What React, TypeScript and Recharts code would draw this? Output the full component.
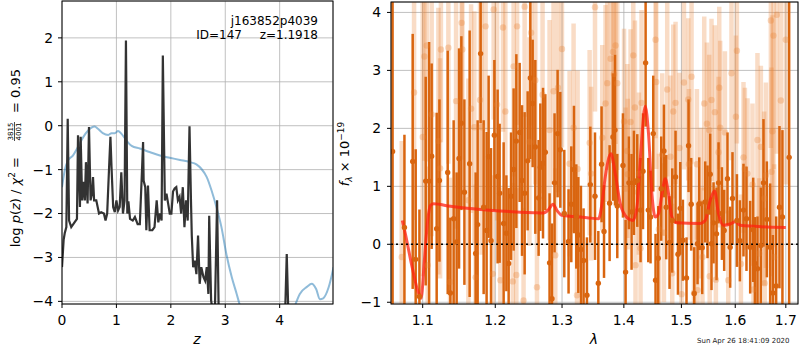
import React from 'react'
import {
  ComposedChart,
  LineChart,
  Line,
  Scatter,
  ErrorBar,
  XAxis,
  YAxis,
  CartesianGrid,
  ReferenceLine,
} from 'recharts'

// left panel: log p(z)
const pzZ = [
  0, 0.03, 0.05, 0.08, 0.105, 0.13, 0.17, 0.23, 0.275, 0.294, 0.33, 0.343, 0.37, 0.4, 0.42, 0.44, 0.47, 0.496,
  0.525, 0.55, 0.57, 0.59, 0.63, 0.68, 0.72, 0.77, 0.8, 0.83, 0.863, 0.89, 0.91, 0.94, 0.97, 1.0, 1.03, 1.06,
  1.09, 1.12, 1.15, 1.175, 1.2, 1.22, 1.25, 1.3, 1.34, 1.39, 1.43, 1.47, 1.49, 1.5, 1.53, 1.55, 1.58, 1.61,
  1.66, 1.7, 1.74, 1.77, 1.8, 1.83, 1.853, 1.89, 1.92, 1.95, 1.98, 2.01, 2.04, 2.07, 2.1, 2.13, 2.16, 2.19,
  2.22, 2.25, 2.28, 2.31, 2.343, 2.37, 2.385, 2.41, 2.44, 2.47, 2.5, 2.53, 2.56, 2.6, 2.63, 2.66, 2.69, 2.705,
  2.74, 2.78, 2.81, 2.85, 2.88, 2.92, 4.08, 4.1, 4.13, 4.16, 4.2, 4.98,
]
const logPz = [
  -3.22, -2.6, -2.45, -2.31, 0.16, -2.16, -2.31, -2.2, -2.12, -0.22, -1.85, -0.25, -1.7, -1.28, -1.7, -0.83, -1.77, -0.03,
  -1.7, -1.55, -1.17, -1.7, -1.7, -2.0, -1.97, -2.0, -2.16, -2.0, -1.02, -0.25, -0.94, -1.85, -1.97, -1.7, -1.93, -1.85,
  -1.06, -2.0, -1.7, 1.94, -2.0, -1.72, -2.12, -2.16, -2.08, -2.24, -2.24, -1.02, -0.37, -1.25, -1.4, -2.38, -1.36, -2.38,
  -2.38, -2.31, -1.7, -2.2, -2.0, -2.16, 1.6, -1.7, -1.55, -1.77, -2.0, -2.0, -1.5, -1.43, -1.4, -1.7, -1.62, -2.0,
  -1.4, -2.31, -1.7, -2.16, -0.01, -1.7, -2.5, -3.22, -3.07, -3.38, -2.5, -3.6, -3.22, -3.45, -3.53, -3.22, -3.83, -2.05,
  -3.98, -4.3, -4.2, -1.7, -4.3, -6, -6, -4.3, -2.92, -4.3, -6, -6,
]

const priorZ = [
  0, 0.05, 0.11, 0.2, 0.29, 0.39, 0.48, 0.6, 0.66, 0.75, 0.85, 0.91, 0.97, 1.03, 1.09, 1.18, 1.28, 1.43, 1.61,
  1.8, 1.98, 2.17, 2.35, 2.47, 2.56, 2.66, 2.75, 2.84, 2.93, 3.02, 3.12, 3.21, 3.27, 3.36, 3.6, 3.9, 4.15, 4.28,
  4.37, 4.5, 4.59, 4.67, 4.74, 4.8, 4.9, 4.99,
]
const logPrior = [
  -1.4, -1.02, -0.79, -0.68, -0.49, -0.26, -0.11, -0.02, -0.07, -0.17, -0.21, -0.17, -0.17, -0.12, -0.18, -0.33,
  -0.46, -0.52, -0.6, -0.68, -0.73, -0.78, -0.83, -0.88, -0.98, -1.17, -1.48, -1.86, -2.31, -2.92, -3.45, -3.83,
  -4.1, -4.5, -5.2, -5.4, -4.6, -4.1, -3.83, -3.67, -3.6, -3.72, -3.95, -3.93, -3.68, -3.22,
]

// right panel: spectrum
const darkWave = [
  1.061, 1.0762, 1.0869, 1.0908, 1.0957, 1.104, 1.1085, 1.1119, 1.1186, 1.1223, 1.1335, 1.1371, 1.1416, 1.1457,
  1.149, 1.1522, 1.1564, 1.1637, 1.1721, 1.1749, 1.1791, 1.1834, 1.1876, 1.1905, 1.1939, 1.1987, 1.2034, 1.2063,
  1.2121, 1.2161, 1.2194, 1.2229, 1.2267, 1.2307, 1.2356, 1.2391, 1.243, 1.2475, 1.2515, 1.255, 1.259, 1.264,
  1.2666, 1.2707, 1.2742, 1.2807, 1.2844, 1.2884, 1.2931, 1.2973, 1.3035, 1.3102, 1.3145, 1.3187, 1.3224, 1.3256,
  1.3298, 1.334, 1.3394, 1.3448, 1.3524, 1.3578, 1.3631, 1.3671, 1.3763, 1.3818, 1.3852, 1.389, 1.3985, 1.4029,
  1.4085, 1.413, 1.417, 1.4227, 1.4283, 1.4325, 1.437, 1.4416, 1.4455, 1.4502, 1.4542, 1.4589, 1.4641, 1.4689,
  1.4729, 1.4788, 1.4836, 1.4895, 1.4938, 1.4979, 1.5027, 1.5092, 1.5129, 1.5177, 1.5232, 1.5293, 1.5324, 1.5379,
  1.5434, 1.5477, 1.5527, 1.5551, 1.5589, 1.5645, 1.5683, 1.5746, 1.5789, 1.5852, 1.5903, 1.5947, 1.6032, 1.6089,
  1.6159, 1.6217, 1.6289, 1.6348, 1.6381, 1.6432, 1.6499, 1.6551, 1.6618, 1.6684, 1.6738, 1.6804, 1.6871, 1.6931,
  1.7068,
]
const darkFlux = [
  1.6, 0.29, 1.43, -0.26, -0.9, 1.09, 1.09, 1.52, 0.27, 1.1, 1.24, -0.84, 0.44, 0.04,
  1.48, 2.09, 0.9, 1.39, -0.16, 0.34, 3.29, 0.64, 0.24, 1.51, 0.06, 1.88, 1.17, 0.88,
  0.36, 0.19, -0.33, 0.83, 1.29, 1.78, 1.93, 1.1, 0.88, 1.44, 2.87, 2.43, 1.68, 0.8,
  1.33, 1.4, 1.59, -0.32, -0.94, 1.06, 1.91, 1.63, 0.53, 0.05, 0.69, 1.29, 0.48, 0.16,
  -0.09, -0.28, -0.88, 1.03, 0.83, -0.67, 1.38, 0.22, 0.71, 1.85, 1.97, 0.66, 1.36, -0.48,
  1.06, 0.56, 1.06, 1.1, 0.59, 1.26, 3.13, 0.59, 0.47, 1.91, -0.62, -0.24, 0.96, 1.61,
  0.64, 0.03, 0.41, 1.16, -0.17, 0.62, 0.07, -0.58, 1.7, 0.69, -0.85, 0.01, 0.7, -0.06,
  0.73, 0.56, 1.21, 0.01, 0.37, 0.18, 1.06, 0.53, 0.24, 1.13, -0.05, 0.79, 0.41, 0.06,
  0.59, 0.44, -0.05, 0.25, -0.33, -0.42, -0.02, 1.06, 0.43, -0.05, -0.84, -0.72, 0.64, 0.47,
  1.5,
]
const darkErr = [
  3.0, 1.6, 2.2, 1.9, 1.5, 1.8, 2.4, 1.6, 2.0, 1.4, 2.1, 1.3, 1.7, 1.2,
  1.9, 1.5, 1.6, 2.3, 1.4, 1.8, 1.2, 1.5, 1.7, 1.4, 1.6, 1.3, 1.5, 1.2,
  1.4, 1.0, 1.3, 1.1, 1.4, 1.5, 1.2, 1.3, 1.4, 1.2, 1.4, 1.1, 1.5, 1.0,
  1.1, 1.3, 1.0, 1.2, 1.3, 1.2, 1.1, 1.0, 1.1, 0.9, 1.0, 1.1, 0.9, 1.0,
  1.1, 0.9, 1.0, 1.0, 1.1, 0.9, 1.0, 0.8, 1.0, 1.1, 1.3, 0.9, 0.9, 0.9,
  0.8, 1.0, 0.9, 0.8, 0.9, 1.0, 1.1, 0.9, 0.8, 1.0, 0.8, 0.9, 0.9, 0.8,
  0.9, 0.8, 0.9, 0.8, 0.7, 0.8, 0.7, 0.7, 0.8, 0.8, 0.8, 0.7, 0.8, 0.8,
  0.7, 0.8, 0.7, 0.8, 0.7, 0.8, 0.7, 0.8, 0.7, 0.8, 0.7, 0.8, 0.8, 0.7,
  0.8, 0.9, 0.8, 0.9, 0.8, 0.9, 1.0, 1.1, 1.0, 1.1, 1.0, 1.2, 1.4, 1.5,
  3.5,
]

const lightWave = [
  1.0727, 1.0887, 1.1, 1.1022, 1.1053, 1.1066, 1.1119, 1.1209, 1.1232, 1.1243, 1.1344, 1.1367, 1.1449, 1.1526,
  1.1536, 1.1619, 1.1657, 1.1703, 1.1721, 1.1783, 1.1806, 1.1862, 1.1965, 1.1977, 1.2026, 1.2073, 1.2112, 1.2146,
  1.2255, 1.2267, 1.2307, 1.2318, 1.2414, 1.243, 1.2502, 1.2527, 1.259, 1.2615, 1.27, 1.2807, 1.2868, 1.2895,
  1.2937, 1.2999, 1.3118, 1.3181, 1.3235, 1.3245, 1.3437, 1.3461, 1.3524, 1.3642, 1.3696, 1.3724, 1.3779, 1.3818,
  1.3835, 1.3862, 1.389, 1.4003, 1.4029, 1.4058, 1.4066, 1.4113, 1.4159, 1.4187, 1.4197, 1.4255, 1.4283, 1.43,
  1.4542, 1.4554, 1.46, 1.4659, 1.4689, 1.4747, 1.4805, 1.4836, 1.4854, 1.4895, 1.4966, 1.5003, 1.5046, 1.5123,
  1.5136, 1.5183, 1.5227, 1.5281, 1.5293, 1.5355, 1.5384, 1.5416, 1.5466, 1.5508, 1.5517, 1.5551, 1.5614, 1.5633,
  1.5683, 1.5696, 1.5714, 1.5803, 1.5866, 1.5928, 1.6013, 1.6032, 1.6109, 1.6159, 1.6186, 1.6236, 1.6334, 1.6354,
  1.6432, 1.6466, 1.6499, 1.6565, 1.6575, 1.6599, 1.6698, 1.671, 1.673, 1.6751, 1.6765, 1.6818, 1.6899, 1.7,
]
const lightFlux = [
  -0.22, 2.62, 1.85, 3.24, 3.43, -0.36, 2.24, 1.78, 1.31, 3.36, 3.39, -0.65, 2.47, 3.82,
  3.36, 0.76, 2.34, 2.02, -0.57, 2.49, 2.02, 3.76, -0.51, 4.05, 2.41, -0.62, 3.74, 2.29,
  -0.64, 3.07, -0.53, 3.76, -0.97, 4.1, 1.77, 3.65, 2.83, -0.74, 2.58, 1.97, 2.64, -0.19,
  2.7, 3.37, 1.39, 2.01, -0.88, 1.3, 1.75, 1.22, 4.09, 1.84, 2.43, 2.78, 3.2, 3.32,
  2.94, 3.43, 2.78, 2.12, 0.96, 1.61, 1.21, 2.11, 3.26, 2.36, -0.36, 1.22, -0.07, 2.44,
  3.53, 2.8, 0.26, 1.55, 0.2, 2.67, 1.51, -0.5, 2.29, 2.44, 1.66, -0.86, 2.79, 2.5,
  1.38, 2.89, -0.84, 1.38, -0.79, 0.71, -0.22, 2.43, 2.08, 1.97, -0.55, 2.49, 2.28, -0.61,
  1.59, 2.7, 2.01, 1.93, -0.62, 2.95, 2.2, 3.34, -0.34, 1.5, 1.3, 1.22, 1.03, -0.78,
  1.8, -0.16, 1.68, 0.79, -0.67, 1.19, 3.86, 1.25, 1.95, 3.6, -0.22, 3.96, 2.48, 3.53,
]
const lightErr = [
  2.0, 2.2, 2.4, 1.8, 2.0, 1.7, 2.1, 2.3, 1.9, 1.6, 2.0, 1.8, 2.2, 1.7,
  1.9, 2.1, 1.8, 2.0, 1.6, 1.9, 2.2, 1.8, 1.7, 1.9, 2.0, 1.6, 1.8, 2.1,
  1.7, 1.9, 1.5, 1.7, 1.6, 1.9, 1.8, 1.6, 1.8, 1.5, 1.7, 1.9, 1.6, 1.5,
  1.8, 1.7, 1.6, 1.8, 1.4, 1.7, 1.6, 1.5, 1.8, 1.6, 1.7, 1.5, 1.8, 1.6,
  1.5, 1.7, 1.5, 1.6, 1.4, 1.5, 1.3, 1.6, 1.7, 1.5, 1.3, 1.4, 1.3, 1.6,
  1.7, 1.5, 1.3, 1.4, 1.2, 1.5, 1.4, 1.2, 1.5, 1.4, 1.3, 1.2, 1.5, 1.4,
  1.3, 1.5, 1.2, 1.3, 1.2, 1.3, 1.2, 1.5, 1.4, 1.3, 1.2, 1.4, 1.5, 1.2,
  1.3, 1.4, 1.5, 1.4, 1.2, 1.5, 1.4, 1.6, 1.2, 1.3, 1.4, 1.3, 1.4, 1.2,
  1.5, 1.3, 1.4, 1.5, 1.3, 1.6, 2.2, 1.8, 2.0, 2.3, 1.6, 2.4, 2.2, 2.5,
]

const modelWave = [
  1.0735, 1.0774, 1.0861, 1.0947, 1.0979, 1.1022, 1.1066, 1.1102, 1.1146, 1.1371, 1.1601, 1.2073, 1.2564, 1.2716,
  1.2792, 1.2859, 1.2921, 1.2999, 1.3181, 1.3394, 1.3582, 1.3637, 1.3691, 1.3785, 1.3856, 1.394, 1.4052, 1.4153,
  1.4221, 1.4289, 1.4363, 1.442, 1.4479, 1.4536, 1.4594, 1.4654, 1.4712, 1.477, 1.483, 1.4919, 1.5342, 1.5434,
  1.5527, 1.5607, 1.5682, 1.5776, 1.5904, 1.5999, 1.6095, 1.6354, 1.6999,
]
const modelFlux = [
  0.41, 0.18, -0.39, -0.85, -0.93, -0.28, 0.41, 0.67, 0.7, 0.655, 0.62, 0.575, 0.546, 0.54,
  0.6, 0.69, 0.586, 0.5, 0.48, 0.46, 0.44, 0.7, 1.16, 1.56, 1.22, 0.7, 0.46, 0.41,
  0.64, 1.62, 2.38, 1.91, 0.87, 0.47, 0.53, 0.87, 1.13, 0.87, 0.47, 0.37, 0.36, 0.41,
  0.76, 0.92, 0.53, 0.33, 0.35, 0.39, 0.33, 0.31, 0.29,
]

const zTicks = [0, 1, 2, 3, 4]
const pzTicks = [-4, -3, -2, -1, 0, 1, 2]
const waveTicks = [1.1, 1.2, 1.3, 1.4, 1.5, 1.6, 1.7]
const fluxTicks = [-1, 0, 1, 2, 3, 4]

const Z_DOMAIN: [number, number] = [0, 4.98]
const PZ_DOMAIN: [number, number] = [-4.06, 2.84]
const WAVE_DOMAIN: [number, number] = [1.059, 1.725]
const FLUX_DOMAIN: [number, number] = [-1.03, 4.18]

// error bars are not clipped by recharts, so trim them to the visible flux range
const pts = (xs: number[], ys: number[], es?: number[]) =>
  xs.map((x, i) => {
    const y = ys[i]
    const e = es ? es[i] : 0
    const lo = Math.max(0, Math.min(e, y - FLUX_DOMAIN[0]))
    const hi = Math.max(0, Math.min(e, FLUX_DOMAIN[1] - y))
    return { x, y, eb: [lo, hi] }
  })

const pzData = pts(pzZ, logPz)
const priorData = pts(priorZ, logPrior)
const darkData = pts(darkWave, darkFlux, darkErr)
const lightData = pts(lightWave, lightFlux, lightErr)
const modelData = pts(modelWave, modelFlux)

const FONT = 'DejaVu Sans'
const ORANGE = '#d9650f'
const minus = (v: number) => (v < 0 ? '\u2212' + Math.abs(v) : String(v))
const tickStyle = { fontSize: 13.9, fill: '#000', fontFamily: FONT }

export default function App() {
  return (
    <div
      style={{
        position: 'absolute',
        left: 0,
        top: 0,
        width: 800,
        height: 350,
        background: '#fff',
        overflow: 'hidden',
        fontFamily: FONT,
      }}
    >
      <div style={{ position: 'absolute', left: 0, top: 0 }}>
        <LineChart width={400} height={350} margin={{ top: 1, right: 67, bottom: 0, left: 0 }}>
          <CartesianGrid stroke="#b0b0b0" strokeWidth={0.8} />
          <XAxis
            dataKey="x"
            type="number"
            domain={Z_DOMAIN}
            ticks={zTicks}
            allowDataOverflow
            height={46}
            axisLine={false}
            tickLine={{ stroke: '#000' }}
            tickSize={4}
            tickMargin={7}
            tick={tickStyle}
          />
          <YAxis
            dataKey="y"
            type="number"
            domain={PZ_DOMAIN}
            ticks={pzTicks}
            allowDataOverflow
            width={62}
            axisLine={false}
            tickLine={{ stroke: '#000' }}
            tickSize={4}
            tickMargin={5}
            tick={tickStyle}
            tickFormatter={minus}
          />
          <Line
            data={priorData}
            dataKey="y"
            type="monotone"
            stroke="#1f77b4"
            strokeOpacity={0.5}
            strokeWidth={2}
            dot={false}
            activeDot={false}
            isAnimationActive={false}
          />
          <Line
            data={pzData}
            dataKey="y"
            type="linear"
            stroke="#333333"
            strokeWidth={2.2}
            dot={false}
            activeDot={false}
            isAnimationActive={false}
          />
        </LineChart>
      </div>

      <div style={{ position: 'absolute', left: 330, top: 0 }}>
        <ComposedChart width={470} height={350} margin={{ top: 2, right: 2, bottom: 0, left: 0 }}>
          <CartesianGrid stroke="#b0b0b0" strokeWidth={0.8} />
          <XAxis
            dataKey="x"
            type="number"
            scale="log"
            domain={WAVE_DOMAIN}
            ticks={waveTicks}
            allowDataOverflow
            height={46}
            axisLine={false}
            tickLine={{ stroke: '#000' }}
            tickSize={4}
            tickMargin={7}
            tick={tickStyle}
            tickFormatter={(v: number) => v.toFixed(1)}
          />
          <YAxis
            dataKey="y"
            type="number"
            domain={FLUX_DOMAIN}
            ticks={fluxTicks}
            allowDataOverflow
            width={61}
            axisLine={false}
            tickLine={{ stroke: '#000' }}
            tickSize={4}
            tickMargin={6}
            tick={tickStyle}
            tickFormatter={minus}
          />
          <Scatter
            data={lightData}
            isAnimationActive={false}
            shape={(p: any) => <circle cx={p.cx} cy={p.cy} r={3.2} fill="rgba(232,130,50,0.3)" />}
          >
            <ErrorBar
              dataKey="eb"
              direction="y"
              width={0}
              stroke="rgba(232,130,50,0.28)"
              strokeWidth={4.5}
              isAnimationActive={false}
            />
          </Scatter>
          <Scatter
            data={darkData}
            isAnimationActive={false}
            shape={(p: any) => <circle cx={p.cx} cy={p.cy} r={2.7} fill={ORANGE} />}
          >
            <ErrorBar dataKey="eb" direction="y" width={0} stroke={ORANGE} strokeWidth={2.5} isAnimationActive={false} />
          </Scatter>
          <Line
            data={modelData}
            dataKey="y"
            type="monotone"
            stroke="#ff2010"
            strokeOpacity={0.75}
            strokeWidth={3}
            dot={false}
            activeDot={false}
            isAnimationActive={false}
          />
          <ReferenceLine y={0} stroke="#000" strokeWidth={1.5} strokeDasharray="2 3" />
        </ComposedChart>
      </div>

      <svg
        width={800}
        height={350}
        style={{ position: 'absolute', left: 0, top: 0, pointerEvents: 'none' }}
        fontFamily={FONT}
      >
        <rect x={62} y={1} width={271} height={303} fill="none" stroke="#000" strokeWidth={1} />
        <rect x={391} y={2} width={407} height={302} fill="none" stroke="#000" strokeWidth={1} />

        <text x={318} y={25} textAnchor="end" fontSize={12}>j163852p4039</text>
        <text x={242} y={39} textAnchor="end" fontSize={12}>ID=147</text>
        <text x={318} y={39} textAnchor="end" fontSize={12}>z=1.1918</text>

        <g transform="translate(20,158) rotate(-90)">
          <text x={1} y={0} textAnchor="end" fontSize={13}>
            log <tspan fontStyle="italic">p</tspan>(<tspan fontStyle="italic">z</tspan>) / <tspan fontStyle="italic">χ</tspan>
            <tspan dy={-5} fontSize={9}>2</tspan>
            <tspan dy={5}> =</tspan>
          </text>
          <text x={26.5} y={-7} textAnchor="middle" fontSize={7}>3815</text>
          <line x1={17} x2={36} y1={-5.5} y2={-5.5} stroke="#000" strokeWidth={0.7} />
          <text x={26.5} y={0.5} textAnchor="middle" fontSize={7}>4001</text>
          <text x={45} y={0} fontSize={13}>= 0.95</text>
        </g>

        <g transform="translate(349,154) rotate(-90)">
          <text x={0} y={0} textAnchor="middle" fontSize={13}>
            <tspan fontStyle="italic">f</tspan>
            <tspan dy={3} fontSize={9} fontStyle="italic">λ</tspan>
            <tspan dy={-3}> × 10</tspan>
            <tspan dy={-5} fontSize={9}>−19</tspan>
          </text>
        </g>

        <text x={197} y={344} textAnchor="middle" fontSize={14} fontStyle="italic">z</text>
        <text x={594} y={344} textAnchor="middle" fontSize={14} fontStyle="italic">λ</text>
        <text x={697} y={343} fontSize={7} fill="#222">Sun Apr 26 18:41:09 2020</text>
      </svg>
    </div>
  )
}
